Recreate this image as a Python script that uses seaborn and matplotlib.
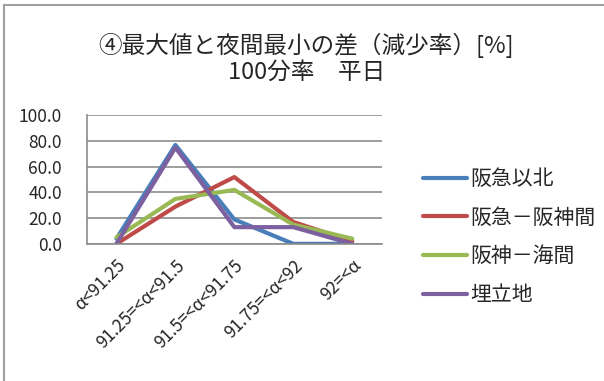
import numpy as np
import pandas as pd
import matplotlib
matplotlib.use("Agg")
import matplotlib.pyplot as plt
import seaborn as sns
from matplotlib.lines import Line2D

# data
categories = ["α<91.25", "91.25=<α<91.5", "91.5=<α<91.75", "91.75=<α<92", "92=<α"]
series_names = ["阪急以北", "阪急－阪神間", "阪神－海間", "埋立地"]
hankyu_north = [4, 77, 19, 0, 0]
hankyu_hanshin = [0, 29, 52, 17, 2]
hanshin_sea = [5, 35, 42, 15, 4]
reclaimed = [0, 75, 13, 13, 0]
colors = ["#4a7ebb", "#be4b48", "#98b954", "#7d60a0"]
yticks = [0, 20, 40, 60, 80, 100]

sns.set_style("white")
plt.rcParams['font.family'] = ['Noto Sans CJK JP', 'DejaVu Sans']

rows = []
for name, vals in zip(series_names, [hankyu_north, hankyu_hanshin, hanshin_sea, reclaimed]):
    for i, v in enumerate(vals):
        rows.append({"pos": i, "value": v, "series": name})
df = pd.DataFrame(rows)

fig = plt.figure(figsize=(6.04, 3.81), dpi=100)
ax = fig.add_axes([0.144, 0.36, 0.488, 0.337])

sns.lineplot(data=df, x="pos", y="value", hue="series", hue_order=series_names,
             palette=colors, linewidth=3, sort=False, ax=ax, legend=False)

ax.set_xlim(-0.5, len(categories) - 0.5)
ax.set_ylim(0, 100)
ax.set_yticks(yticks)
ax.set_yticklabels([f"{t:.1f}" for t in yticks], fontsize=12.5)
ax.yaxis.grid(True, color="#8c8c8c", linewidth=1.2)
ax.set_axisbelow(True)
ax.set_xticks(range(len(categories)))
ax.set_xticklabels(categories, rotation=45, ha="right", rotation_mode="anchor", fontsize=12.5)
ax.tick_params(axis="y", length=0, pad=18)
ax.tick_params(axis="x", length=0, pad=9)
ax.set_xlabel("")
ax.set_ylabel("")
for side in ["top", "right"]:
    ax.spines[side].set_visible(False)
for side in ["left", "bottom"]:
    ax.spines[side].set_color("#8c8c8c")
    ax.spines[side].set_linewidth(1.2)

handles = [Line2D([0], [0], color=c, linewidth=3) for c in colors]
fig.legend(handles, series_names, loc="center left", bbox_to_anchor=(0.669, 0.378),
           frameon=False, fontsize=15, handlelength=2.1, labelspacing=0.8,
           handletextpad=0.2)

fig.text(0.507, 0.882, "④最大値と夜間最小の差（減少率）[%]", ha="center", va="center", fontsize=17)
fig.text(0.507, 0.811, "100分率　平日", ha="center", va="center", fontsize=17)

# chart frame (only top and left edges visible in the crop)
fig.add_artist(Line2D([0.007, 1.0], [0.987, 0.987], color="#a0a0a0", linewidth=1.5,
                      transform=fig.transFigure))
fig.add_artist(Line2D([0.007, 0.007], [0.0, 0.987], color="#a0a0a0", linewidth=1.5,
                      transform=fig.transFigure))

fig.savefig("out.png", dpi=100, facecolor="white")
